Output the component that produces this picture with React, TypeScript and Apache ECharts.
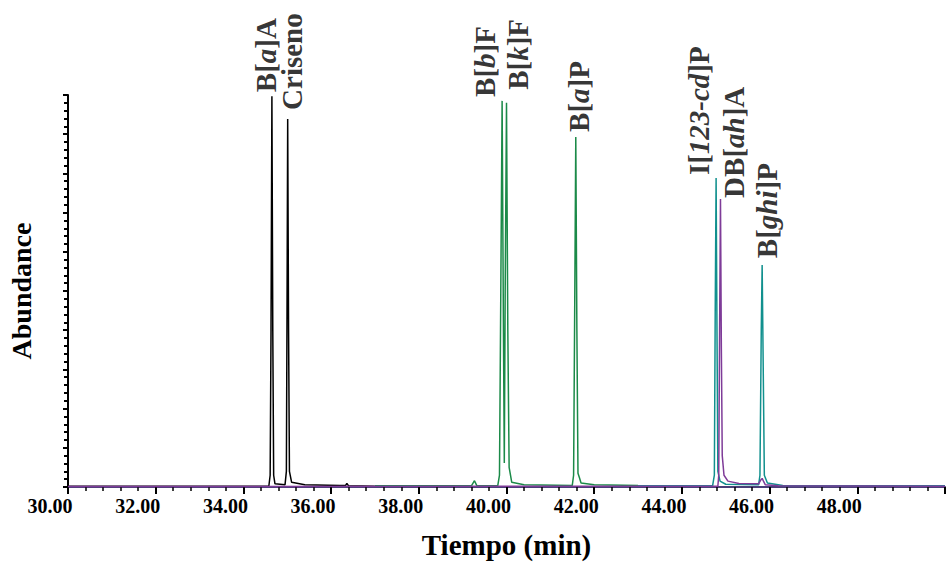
import React, { useEffect, useRef } from "react";
import * as echarts from "echarts";

// Retention time axis
const xMin = 30;
const xMax = 50;
const xInterval = 2;

// Traces: [time (min), abundance (% of max)]
const blackTrace: [number, number][] = [
  [30.0, 0.2], [34.58, 0.2], [34.61, 3], [34.63, 40], [34.65, 99.7], [34.67, 40], [34.69, 3],
  [34.72, 0.8], [34.95, 0.6], [34.98, 4], [34.995, 45], [35.01, 93.9], [35.03, 40], [35.05, 4],
  [35.1, 1.2], [35.4, 0.6], [36.2, 0.4], [36.33, 0.4], [36.36, 0.9], [36.4, 0.3], [37.0, 0.2],
];

const greenTrace: [number, number][] = [
  [37.0, 0.3], [39.2, 0.3], [39.27, 1.6], [39.32, 0.4], [39.45, 0.3], [39.8, 0.3], [39.84, 3],
  [39.87, 50], [39.9, 98.5], [39.93, 40], [39.95, 6.1], [39.97, 50], [40.0, 98.0], [40.03, 40],
  [40.06, 5], [40.12, 1.2], [40.4, 0.6], [41.5, 0.4], [41.53, 3], [41.555, 45], [41.58, 89.3],
  [41.605, 40], [41.63, 3.5], [41.66, 2.5], [41.7, 1], [42.0, 0.6], [43.0, 0.4], [44.0, 0.3],
];

const tealTrace: [number, number][] = [
  [43.0, 0.3], [44.7, 0.3], [44.74, 3], [44.76, 45], [44.78, 78.8], [44.8, 40], [44.82, 4],
  [44.87, 1.5], [45.0, 0.7], [45.75, 0.6], [45.78, 3], [45.81, 40], [45.83, 56.6], [45.855, 30],
  [45.88, 3], [45.95, 1], [46.3, 0.4], [50.0, 0.3],
];

const purpleTrace: [number, number][] = [
  [30.0, 0.1], [44.82, 0.2], [44.84, 3], [44.86, 40], [44.88, 73.5], [44.9, 35], [44.92, 8],
  [44.96, 3], [45.05, 1.5], [45.3, 0.9], [45.75, 0.8], [45.8, 1.8], [45.83, 2.2], [45.86, 1.5],
  [45.9, 0.6], [46.2, 0.3], [50.0, 0.2],
];

// Peak labels (italic parts between underscores)
const peakLabels = ["B[_a_]A", "Criseno", "B[_b_]F", "B[_k_]F", "B[_a_]P", "I[_123-cd_]P", "DB[_ah_]A", "B[_ghi_]P"];
const peakTimes = [34.65, 35.01, 39.9, 40.0, 41.58, 44.78, 44.88, 45.83];
const peakHeights = [99.7, 93.9, 98.5, 98.0, 89.3, 78.8, 73.5, 56.6];
const labelShift: [number, number][] = [
  [-6, -4], [4, -9], [-17, -4], [11, -13], [3, -5], [-17, -3], [14, -1], [5, -7],
];

const serif = "'Liberation Serif', 'DejaVu Serif', serif";

function toRich(s: string): string {
  return s
    .split("_")
    .map((part, i) => (part === "" ? "" : `{${i % 2 === 1 ? "i" : "n"}|${part}}`))
    .join("");
}

export default function App() {
  const ref = useRef<HTMLDivElement>(null);

  useEffect(() => {
    if (!ref.current) return;
    const chart = echarts.init(ref.current, undefined, { renderer: "svg" });

    const lineSeries = (name: string, data: [number, number][], color: string) => ({
      name,
      type: "line",
      data,
      showSymbol: false,
      symbol: "none",
      lineStyle: { color, width: 1.5 },
      z: 3,
    });

    chart.setOption({
      animation: false,
      backgroundColor: "#ffffff",
      grid: { left: 68, right: 1, top: 95, bottom: 76, containLabel: false, outerBoundsMode: "none" },
      xAxis: {
        type: "value",
        min: xMin,
        max: xMax,
        interval: xInterval,
        name: "Tiempo (min)",
        nameLocation: "middle",
        nameGap: 43,
        nameTextStyle: { fontFamily: serif, fontWeight: "bold", fontSize: 29, color: "#000" },
        axisLine: { show: true, onZero: false, lineStyle: { color: "#4a3f78", width: 2 } },
        axisTick: { show: true, length: 7, lineStyle: { color: "#000", width: 2 } },
        minorTick: { show: true, splitNumber: 5, length: 4, lineStyle: { color: "#000", width: 1.5 } },
        splitLine: { show: false },
        axisLabel: {
          color: "#000",
          margin: 9,
          showMaxLabel: false,
          formatter: (v: number) => (v >= xMax ? "" : `{v|${v.toFixed(2)}}{s|}`),
          rich: {
            v: { fontFamily: serif, fontWeight: "bold", fontSize: 20, color: "#000" },
            s: { width: 36, fontSize: 20 },
          },
        },
      },
      yAxis: {
        type: "value",
        min: 0,
        max: 100,
        interval: 10,
        name: "Abundance",
        nameLocation: "middle",
        nameGap: 33,
        nameRotate: 90,
        nameTextStyle: { fontFamily: serif, fontWeight: "bold", fontSize: 28, color: "#000" },
        axisLine: { show: true, lineStyle: { color: "#000", width: 2 } },
        axisTick: { show: true, length: 5, lineStyle: { color: "#000", width: 2 } },
        minorTick: { show: true, splitNumber: 5, length: 4, lineStyle: { color: "#000", width: 2 } },
        splitLine: { show: false },
        axisLabel: { show: false },
      },
      series: [
        lineSeries("black", blackTrace, "#000000"),
        lineSeries("green", greenTrace, "#1b8a48"),
        lineSeries("teal", tealTrace, "#11908e"),
        lineSeries("purple", purpleTrace, "#7e3b98"),
        {
          name: "labels",
          type: "scatter",
          symbolSize: 0,
          silent: true,
          z: 5,
          data: peakLabels.map((lab, i) => ({
            value: [peakTimes[i], peakHeights[i]],
            label: {
              show: true,
              position: labelShift[i],
              rotate: 90,
              align: "left",
              verticalAlign: "middle",
              formatter: toRich(lab),
              rich: {
                n: { fontFamily: serif, fontWeight: "bold", fontSize: 29, color: "#000" },
                i: { fontFamily: serif, fontWeight: "bold", fontStyle: "italic", fontSize: 29, color: "#000" },
              },
            },
          })),
        },
      ],
    });

    return () => chart.dispose();
  }, []);

  return (
    <div
      ref={ref}
      style={{ position: "absolute", left: 0, top: 0, width: 946, height: 563, background: "#fff" }}
    />
  );
}
